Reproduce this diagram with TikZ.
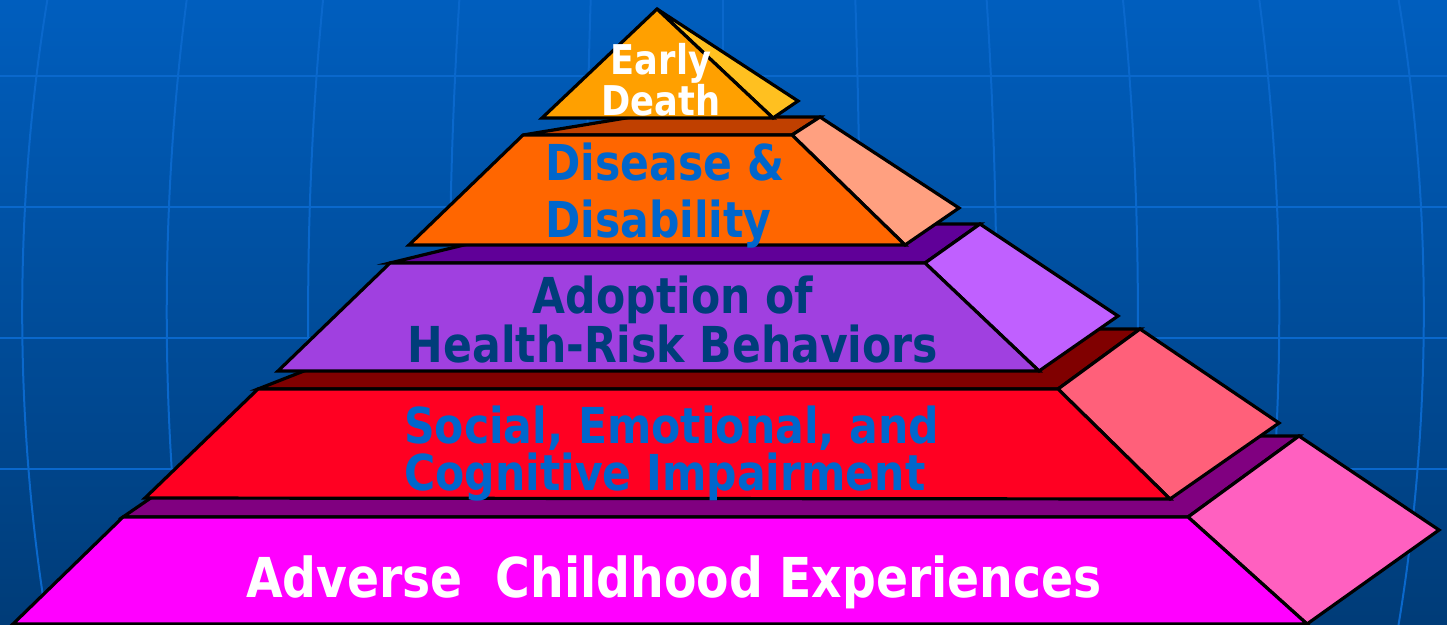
\documentclass[tikz,border=0pt]{standalone}
\usepackage{fontspec}
\newfontfamily\pyrfont{DejaVu Sans}[FakeStretch=0.86]
\usetikzlibrary{positioning}

\definecolor{bgtop}{HTML}{005EBE}
\definecolor{bgbot}{HTML}{003C78}
\definecolor{gridblue}{HTML}{0A68CC}
\definecolor{deathfront}{HTML}{FFA000}
\definecolor{deathside}{HTML}{FFC020}
\definecolor{disfront}{HTML}{FF6600}
\definecolor{distop}{HTML}{C04000}
\definecolor{disside}{HTML}{FFA080}
\definecolor{adofront}{HTML}{A040E0}
\definecolor{adotop}{HTML}{600098}
\definecolor{adoside}{HTML}{C060FF}
\definecolor{socfront}{HTML}{FF0022}
\definecolor{soctop}{HTML}{800000}
\definecolor{socside}{HTML}{FF607A}
\definecolor{acefront}{HTML}{FF00FF}
\definecolor{acetop}{HTML}{800080}
\definecolor{aceside}{HTML}{FF60C0}
\definecolor{textblue}{HTML}{0066CC}
\definecolor{textnavy}{HTML}{003D7A}

\begin{document}
\begin{tikzpicture}[%
      x=1pt, y=-1pt,               % one unit per pixel, y going down
      line join=miter,
      ]
  \tikzset{
    face/.style={draw=black, line width=3.2pt},
    gridline/.style={draw=gridblue, line width=2pt},
    lab/.style={inner sep=0pt, anchor=base, align=center},
    bigfont/.style={font=\pyrfont\bfseries\fontsize{55}{60}\selectfont},
    midfont/.style={font=\pyrfont\bfseries\fontsize{49.5}{#1}\selectfont},
    topfont/.style={font=\pyrfont\bfseries\fontsize{41}{38}\selectfont},
  }

  \useasboundingbox (0,0) rectangle (1447,624);

  % Background with the faint globe grid
  \shade[top color=bgtop, bottom color=bgbot] (0,0) rectangle (1447,624);
  \begin{scope}
    \clip (0,0) rectangle (1447,624);
    \foreach \o in {-674,-535,-399,-263,-132,0,132,263,399,535,674}
      \draw[gridline] ({723+\o},-10) .. controls ({723+1.053*\o},200) and ({723+1.053*\o},424) .. ({723+\o},634);
    \foreach \y in {76,207,338,469}
      \draw[gridline] (0,\y) -- (1447,\y);
  \end{scope}

  % Bottom level
  \filldraw[face, fill=acetop]   (123,517) -- (241,436) -- (1299,436) -- (1188,517) -- cycle;
  \filldraw[face, fill=aceside]  (1188,517) -- (1299,436) -- (1439,530) -- (1307,624) -- cycle;
  \filldraw[face, fill=acefront] (13,624) -- (123,517) -- (1188,517) -- (1307,624) -- cycle;

  % Fourth level
  \filldraw[face, fill=soctop]   (258,389) -- (411,329) -- (1140,329) -- (1058,389) -- cycle;
  \filldraw[face, fill=socside]  (1058,389) -- (1140,329) -- (1279,423) -- (1170,499) -- cycle;
  \filldraw[face, fill=socfront] (145,498) -- (258,389) -- (1058,389) -- (1170,499) -- cycle;

  % Third level
  \filldraw[face, fill=adotop]   (390,263) -- (550,224) -- (980,224) -- (925,263) -- cycle;
  \filldraw[face, fill=adoside]  (925,263) -- (980,224) -- (1118,316) -- (1039,371) -- cycle;
  \filldraw[face, fill=adofront] (278,371) -- (390,263) -- (925,263) -- (1039,371) -- cycle;

  % Second level
  \filldraw[face, fill=distop]   (523,135) -- (632,117) -- (820,117) -- (792,135) -- cycle;
  \filldraw[face, fill=disside]  (792,135) -- (820,117) -- (959,208) -- (905,245) -- cycle;
  \filldraw[face, fill=disfront] (409,245) -- (523,135) -- (792,135) -- (905,245) -- cycle;

  % Top
  \filldraw[face, fill=deathside]  (657,9) -- (798,101) -- (773,118) -- cycle;
  \filldraw[face, fill=deathfront] (542,118) -- (657,9) -- (773,118) -- cycle;

  % Labels (base anchor sits on the last line)
  \node[lab, topfont, text=white] (death) at (661,115) {Early\\Death};
  \node[lab, midfont=57, anchor=base west, align=left, text=textblue] (disease) at (545,237) {Disease \&\\Disability};
  \node[lab, midfont=47, text=textnavy] (adoption) at (673,362) {Adoption of\\Health-Risk Behaviors};
  \node[lab, midfont=47, anchor=base west, align=left, text=textblue] (social) at (404,490) {Social, Emotional, and\\Cognitive Impairment};
  \node[lab, bigfont, text=white] (ace) at (674,597) {Adverse\ \ Childhood Experiences};

\end{tikzpicture}
\end{document}
